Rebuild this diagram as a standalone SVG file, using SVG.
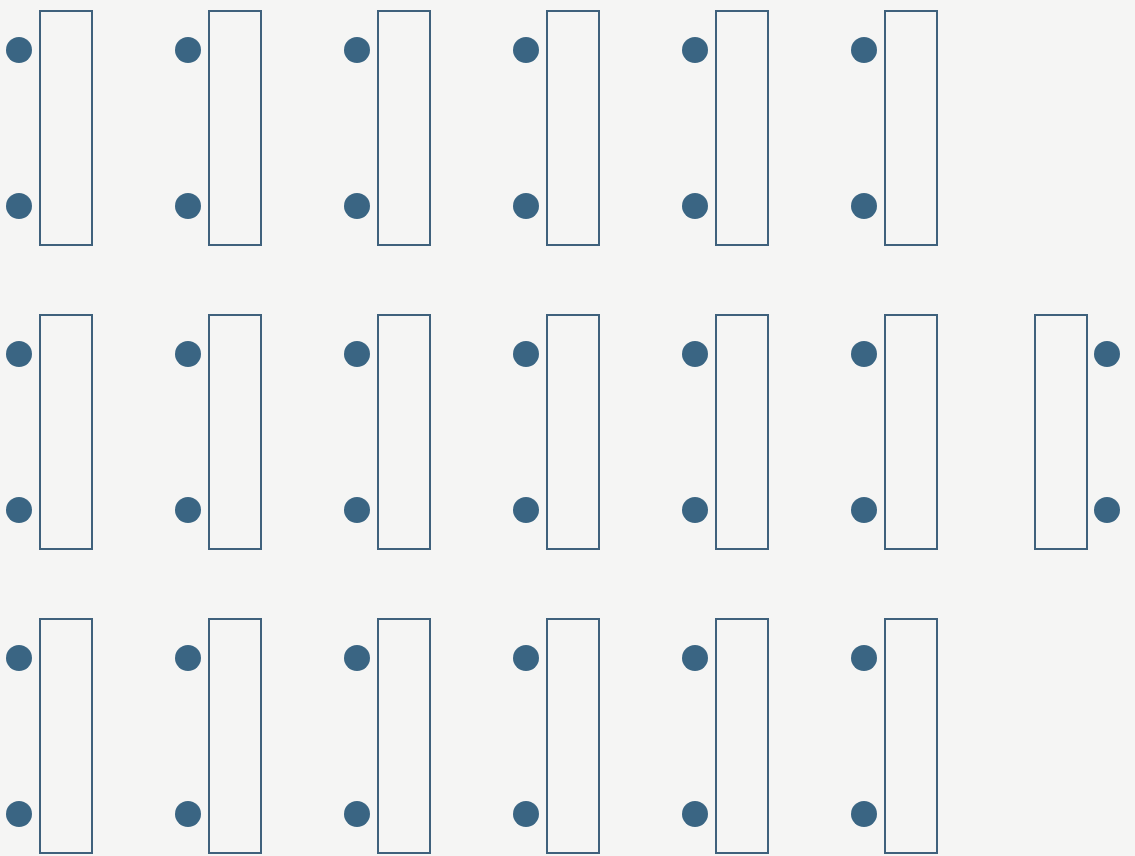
<svg xmlns="http://www.w3.org/2000/svg" width="1135" height="856" viewBox="0 0 1135 856">
<style>
.box{fill:none;stroke:#3f617c;stroke-width:2}
.dot{fill:#3a6583}
</style>
<defs>
<g id="unitL"><rect class="box" x="40" y="11" width="52" height="234"/><circle class="dot" cx="19" cy="50" r="13"/><circle class="dot" cx="19" cy="206" r="13"/></g>
</defs>
<rect x="0" y="0" width="1135" height="856" fill="#f5f5f4"/>
<g id="r1c1"><use href="#unitL"/></g>
<g id="r1c2"><use href="#unitL" x="169"/></g>
<g id="r1c3"><use href="#unitL" x="338"/></g>
<g id="r1c4"><use href="#unitL" x="507"/></g>
<g id="r1c5"><use href="#unitL" x="676"/></g>
<g id="r1c6"><use href="#unitL" x="845"/></g>
<g id="r2c1"><use href="#unitL" y="304"/></g>
<g id="r2c2"><use href="#unitL" x="169" y="304"/></g>
<g id="r2c3"><use href="#unitL" x="338" y="304"/></g>
<g id="r2c4"><use href="#unitL" x="507" y="304"/></g>
<g id="r2c5"><use href="#unitL" x="676" y="304"/></g>
<g id="r2c6"><use href="#unitL" x="845" y="304"/></g>
<g id="r2c7"><rect class="box" x="1035" y="315" width="52" height="234"/><circle class="dot" cx="1107" cy="354" r="13"/><circle class="dot" cx="1107" cy="510" r="13"/></g>
<g id="r3c1"><use href="#unitL" y="608"/></g>
<g id="r3c2"><use href="#unitL" x="169" y="608"/></g>
<g id="r3c3"><use href="#unitL" x="338" y="608"/></g>
<g id="r3c4"><use href="#unitL" x="507" y="608"/></g>
<g id="r3c5"><use href="#unitL" x="676" y="608"/></g>
<g id="r3c6"><use href="#unitL" x="845" y="608"/></g>
<g id="connectors"></g>
</svg>
